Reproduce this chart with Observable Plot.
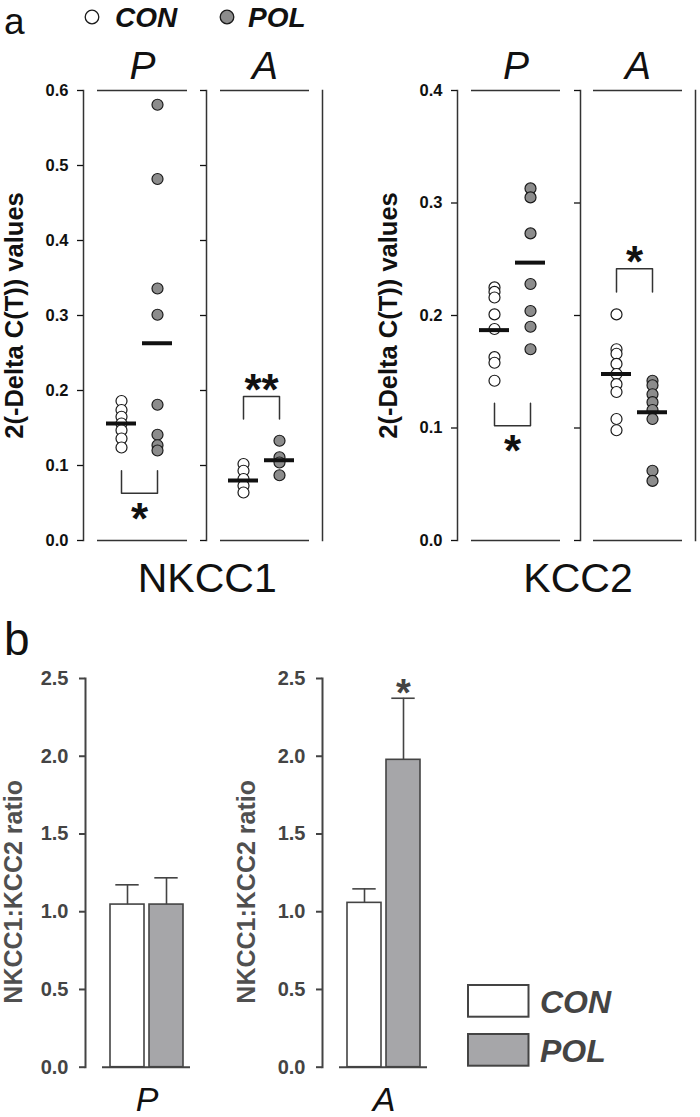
<!DOCTYPE html>
<html>
<head>
<meta charset="utf-8">
<script src="https://cdn.jsdelivr.net/npm/d3@7"></script>
<script src="https://cdn.jsdelivr.net/npm/@observablehq/plot@0.6"></script>
<style>
  html, body { margin: 0; padding: 0; background: #fff; }
  #root { position: relative; width: 700px; height: 1117px; overflow: hidden; background: #fff; font-family: "Liberation Sans", Arial, sans-serif; }
  #root > div.panel { position: absolute; }
  #root svg { overflow: visible; }
</style>
</head>
<body>
<div id="root"></div>
<script>
// ---------------- data ----------------
const groups = ["CON", "POL"];
const regions = ["P", "A"];
const genes = ["NKCC1", "KCC2"];

// Panel a: 2^(-ΔC(T)) values, one array per gene / region / group
const nkcc1P_CON = [0.186, 0.174, 0.165, 0.156, 0.147, 0.136, 0.124];
const nkcc1P_POL = [0.581, 0.482, 0.336, 0.301, 0.181, 0.141, 0.127, 0.120];
const nkcc1A_CON = [0.102, 0.093, 0.082, 0.073, 0.064];
const nkcc1A_POL = [0.133, 0.111, 0.104, 0.087];
const kcc2P_CON = [0.225, 0.221, 0.216, 0.201, 0.188, 0.163, 0.158, 0.142];
const kcc2P_POL = [0.313, 0.305, 0.273, 0.228, 0.204, 0.190, 0.170];
const kcc2A_CON = [0.201, 0.170, 0.166, 0.157, 0.148, 0.139, 0.132, 0.108, 0.098];
const kcc2A_POL = [0.142, 0.138, 0.130, 0.123, 0.116, 0.108, 0.062, 0.053];

// group means (horizontal bars), [CON, POL]
const nkcc1P_mean = [0.156, 0.263];
const nkcc1A_mean = [0.080, 0.107];
const kcc2P_mean = [0.187, 0.247];
const kcc2A_mean = [0.148, 0.114];

const nkcc1Ticks = [0, 0.1, 0.2, 0.3, 0.4, 0.5, 0.6];
const kcc2Ticks = [0, 0.1, 0.2, 0.3, 0.4];

// significance brackets: arm end (from) and bracket bar level (to)
const nkcc1P_sig = {from: 0.093, to: 0.063, label: "*"};
const nkcc1A_sig = {from: 0.162, to: 0.192, label: "**"};
const kcc2P_sig = {from: 0.122, to: 0.102, label: "*"};
const kcc2A_sig = {from: 0.221, to: 0.2415, label: "*"};

// Panel b: NKCC1:KCC2 ratio, [P, A]
const ratioTicks = [0, 0.5, 1.0, 1.5, 2.0, 2.5];
const ratioMean_CON = [1.046, 1.057];
const ratioMean_POL = [1.046, 1.977];
const ratioSem_CON = [0.127, 0.090];
const ratioSem_POL = [0.172, 0.396];
const ratioSig_CON = ["", ""];
const ratioSig_POL = ["", "*"];

// ---------------- styles ----------------
const FONT = '"Liberation Sans", Arial, Helvetica, sans-serif';
const dotFill = ["#ffffff", "#8c8c8c"];
const barFill = ["#ffffff", "#a6a6a9"];
const INK = "#111111";
const LINE = "#333333";
const GREY = "#444444";

const root = document.getElementById("root");
function place(node, left, top) {
  const div = document.createElement("div");
  div.className = "panel";
  div.style.left = left + "px";
  div.style.top = top + "px";
  div.appendChild(node);
  root.appendChild(div);
}
const svgStyle = {background: "transparent", overflow: "visible", fontFamily: FONT, color: INK};

// ---------------- panel a: dot panels ----------------
function dotPanel(o) {
  const rows = groups.flatMap((g, i) => o.values[i].map(v => ({group: g, value: v})));
  const means = groups.map((g, i) => ({group: g, value: o.means[i]}));
  const s = o.sig;
  const bracket = [
    {group: groups[0], value: s.from}, {group: groups[0], value: s.to},
    {group: groups[1], value: s.to}, {group: groups[1], value: s.from}
  ];
  const starF = 44;
  const starDy = (s.to < s.from ? 16 : -16) + 0.24 * starF;
  const marks = [
    Plot.ruleY([0, o.yMax], {insetLeft: o.lineIn[0], insetRight: o.lineIn[1], stroke: LINE, strokeWidth: 1.5}),
    Plot.frame({anchor: "left", stroke: LINE, strokeWidth: 1.5}),
    Plot.axisY({ticks: o.ticks, tickSize: 6, tickPadding: 9, tickFormat: o.first ? ".1f" : () => "",
      label: null, fontSize: 16.5, fontWeight: "bold", color: INK, strokeWidth: 1.3}),
    Plot.line(bracket, {x: "group", y: "value", stroke: LINE, strokeWidth: 1.5}),
    Plot.dot(rows, {x: "group", y: "value", r: 5.5, fill: "group", stroke: "#1a1a1a", strokeWidth: 1.2}),
    Plot.ruleY(means, {x1: "group", x2: "group", y: "value", insetLeft: -15, insetRight: -15, stroke: INK, strokeWidth: 4}),
    Plot.text([s], {x: () => groups[0], y: "to", text: "label", dx: 18, dy: starDy,
      fontSize: starF, fontWeight: "bold", fill: INK}),
    Plot.text([o.region], {text: d => d, frameAnchor: "top", lineAnchor: "bottom", dy: -12,
      dx: (o.lineIn[0] - o.lineIn[1]) / 2, fontSize: 39, fontStyle: "italic", fill: INK})
  ];
  if (o.last) marks.push(Plot.frame({anchor: "right", stroke: LINE, strokeWidth: 1.5}));
  if (o.first) marks.push(
    Plot.text([o.yLabel], {text: d => d, frameAnchor: "left", rotate: -90, dx: o.yLabelX - o.left - o.ml,
      textAnchor: "middle", fontSize: 25.5, fontWeight: "bold", fill: INK}),
    Plot.text([o.gene], {text: d => d, frameAnchor: "bottom-right", textAnchor: "middle", lineAnchor: "bottom",
      dy: 51.7, dx: o.geneDx, fontSize: 41, fill: INK})
  );
  return Plot.plot({
    width: o.ml + o.fw + o.mr, height: 600,
    marginLeft: o.ml, marginRight: o.mr, marginTop: 90, marginBottom: 60,
    x: {type: "point", domain: groups, padding: 0, insetLeft: o.xIn[0], insetRight: o.xIn[1], axis: null},
    y: {domain: [0, o.yMax]},
    color: {domain: groups, range: dotFill},
    style: svgStyle,
    marks
  });
}

const yLabA = "2(-Delta C(T)) values";
const panelsA = [
  {values: [nkcc1P_CON, nkcc1P_POL], means: nkcc1P_mean, sig: nkcc1P_sig, region: regions[0],
   yMax: 0.6, ticks: nkcc1Ticks, first: true, yLabel: yLabA, yLabelX: 14, gene: genes[0], geneDx: 0.7,
   left: 0, ml: 83, fw: 123, mr: 0, xIn: [38, 49], lineIn: [14, 19]},
  {values: [nkcc1A_CON, nkcc1A_POL], means: nkcc1A_mean, sig: nkcc1A_sig, region: regions[1],
   yMax: 0.6, ticks: nkcc1Ticks, first: false, last: true,
   left: 196, ml: 10, fw: 116, mr: 8, xIn: [37, 43], lineIn: [14, 13]},
  {values: [kcc2P_CON, kcc2P_POL], means: kcc2P_mean, sig: kcc2P_sig, region: regions[0],
   yMax: 0.4, ticks: kcc2Ticks, first: true, yLabel: yLabA, yLabelX: 388, gene: genes[1], geneDx: -2.5,
   left: 350, ml: 107, fw: 123, mr: 0, xIn: [37, 50], lineIn: [14, 20]},
  {values: [kcc2A_CON, kcc2A_POL], means: kcc2A_mean, sig: kcc2A_sig, region: regions[1],
   yMax: 0.4, ticks: kcc2Ticks, first: false, last: true,
   left: 570, ml: 10, fw: 115, mr: 4, xIn: [36, 43], lineIn: [13, 13]}
];
panelsA.forEach(o => place(dotPanel(o), o.left, 0));

// ---------------- panel b: bar panels ----------------
function barPanel(o) {
  const rows = groups.map((g, i) => ({group: g, mean: o.means[i], sem: o.sems[i], sig: o.sigs[i]}));
  const starF = 38;
  const H = 517, MT = 78, MB = 50.3;
  return Plot.plot({
    width: o.ml + o.fw, height: H,
    marginLeft: o.ml, marginRight: 0, marginTop: MT, marginBottom: MB,
    x: {type: "band", domain: groups, paddingInner: 0.14, paddingOuter: 0, insetLeft: 25, insetRight: 12.3, axis: null},
    y: {domain: [0, 2.5]},
    color: {domain: groups, range: barFill},
    style: svgStyle,
    marks: [
      Plot.barY(rows, {x: "group", y: "mean", fill: "group", stroke: GREY, strokeWidth: 1.6}),
      Plot.ruleX(rows, {x: "group", y1: "mean", y2: d => d.mean + d.sem, stroke: GREY, strokeWidth: 1.6}),
      Plot.tickY(rows, {x: "group", y: d => d.mean + d.sem, insetLeft: 5.3, insetRight: 5.3, stroke: GREY, strokeWidth: 1.6}),
      Plot.text(rows.filter(d => d.sig), {x: "group", y: d => d.mean + d.sem, text: "sig",
        dy: -13.7 + 0.24 * starF, fontSize: starF, fontWeight: "bold", fill: GREY}),
      Plot.ruleY([0], {insetLeft: 17, insetRight: 5, stroke: GREY, strokeWidth: 2}),
      Plot.frame({anchor: "left", stroke: GREY, strokeWidth: 2}),
      Plot.axisY({ticks: ratioTicks, tickFormat: ".1f", tickSize: 6, tickPadding: 11, label: null,
        fontSize: 20, fontWeight: "bold", color: GREY, strokeWidth: 2}),
      Plot.text([o.yLabel], {text: d => d, frameAnchor: "left", rotate: -90, dx: o.yLabelX - o.left - o.ml, dy: 19,
        textAnchor: "middle", fontSize: 25, fontWeight: "bold", fill: "#505050"}),
      Plot.text([o.region], {text: d => d, x: () => groups[0], frameAnchor: "bottom", dx: 19.5, dy: 43.5,
        lineAnchor: "bottom", fontSize: 34, fontStyle: "italic", fill: INK})
    ]
  });
}
const yLabB = "NKCC1:KCC2 ratio";
const barLefts = [0, 237];
const barLabelX = [13, 246];
regions.forEach((r, i) => {
  place(barPanel({region: r, means: [ratioMean_CON[i], ratioMean_POL[i]], sems: [ratioSem_CON[i], ratioSem_POL[i]],
    sigs: [ratioSig_CON[i], ratioSig_POL[i]], yLabel: yLabB, yLabelX: barLabelX[i], left: barLefts[i],
    ml: 85, fw: 110}), barLefts[i], 600);
});

// ---------------- overlay: panel letters and legends ----------------
const ov = d3.select(root).append("svg")
  .attr("width", 700).attr("height", 1117)
  .style("position", "absolute").style("left", 0).style("top", 0)
  .style("pointer-events", "none").style("font-family", FONT);

ov.append("text").attr("x", 4).attr("y", 34).attr("font-size", 37).attr("fill", INK).text("a");
ov.append("text").attr("x", 4).attr("y", 655).attr("font-size", 46).attr("fill", INK).text("b");

// legend a (circles)
const legA = [{x: 92, tx: 115}, {x: 227, tx: 248}];
groups.forEach((g, i) => {
  ov.append("circle").attr("cx", legA[i].x).attr("cy", 17).attr("r", 6.8)
    .attr("fill", dotFill[i]).attr("stroke", "#1a1a1a").attr("stroke-width", 1.3);
  ov.append("text").attr("x", legA[i].tx).attr("y", 27).attr("font-size", 28)
    .attr("font-weight", "bold").attr("font-style", "italic").attr("fill", INK).text(g);
});

// legend b (boxes)
const legB = [985, 1034];
groups.forEach((g, i) => {
  ov.append("rect").attr("x", 468).attr("y", legB[i]).attr("width", 60.5).attr("height", 31.7)
    .attr("fill", barFill[i]).attr("stroke", GREY).attr("stroke-width", 2);
  ov.append("text").attr("x", 540).attr("y", legB[i] + 28).attr("font-size", 32)
    .attr("font-weight", "bold").attr("font-style", "italic").attr("fill", GREY).text(g);
});
</script>
</body>
</html>
